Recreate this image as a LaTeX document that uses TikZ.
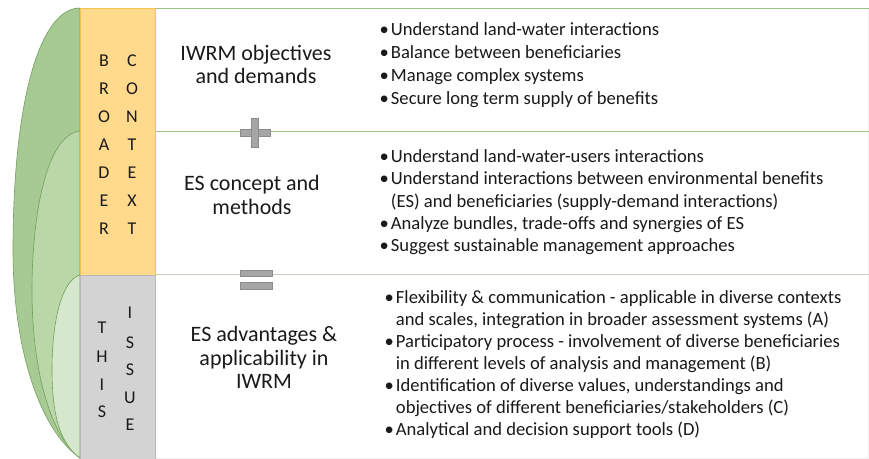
\documentclass[tikz,border=0pt]{standalone}
\usepackage{fontspec}
\setmainfont{Carlito}
\definecolor{gdark}{HTML}{A7C994}
\definecolor{gmid}{HTML}{BAD7A7}
\definecolor{glight}{HTML}{D5E7CC}
\definecolor{gedge}{HTML}{72A05C}
\definecolor{orfill}{HTML}{FFD98C}
\definecolor{ordraw}{HTML}{F2C24E}
\definecolor{gyfill}{HTML}{D3D3D3}
\definecolor{gydraw}{HTML}{B8B8B8}
\definecolor{lineg}{HTML}{9CC27F}
\definecolor{lineg2}{HTML}{C5CFBD}
\definecolor{opgray}{HTML}{A6A6A6}
\definecolor{opdraw}{HTML}{8C8C8C}
\definecolor{txt}{HTML}{1A1A1A}
\begin{document}
\begin{tikzpicture}[x=1pt,y=-1pt,
  arch/.style={draw=gedge,line width=0.6pt},
  letter/.style={inner sep=0pt,font=\fontsize{18}{18}\selectfont,text=txt},
  title/.style={inner sep=0pt,anchor=base,font=\fontsize{22}{23.5}\selectfont,text=txt},
  blist/.style={inner sep=0pt,anchor=base west,text=txt},
  sect/.style={draw=black!6,fill=white,line width=0.6pt},
  op/.style={fill=opgray,draw=opdraw,line width=0.4pt}
]
\useasboundingbox (0,0) rectangle (869,458);
% section boxes
\path[sect] (155,8) rectangle (868,131);
\path[sect] (155,131) rectangle (868,274);
\path[sect] (155,274) rectangle (868,458);
\draw[lineg,line width=1pt] (155,8) -- (869,8);
\draw[lineg,line width=0.8pt] (155,131) -- (869,131);
\draw[lineg2,line width=0.8pt] (155,274) -- (869,274);
% arches
\path[arch,fill=gdark] (80,8) .. controls (40,8) and (13,100) .. (13,250)
  .. controls (13,350) and (40,430) .. (80,458) -- cycle;
\path[arch,fill=gmid] (80,131) .. controls (45,135) and (32,220) .. (32,290)
  .. controls (32,370) and (50,435) .. (80,458) -- cycle;
\path[arch,fill=glight] (80,275) .. controls (62,280) and (52,320) .. (52,370)
  .. controls (52,420) and (62,445) .. (80,458) -- cycle;
% columns
\node[draw=ordraw,fill=orfill,line width=0.8pt,minimum width=75pt,minimum height=267pt,inner sep=0pt,anchor=north west] (broad) at (80,8) {};
\node[draw=gydraw,fill=gyfill,line width=0.8pt,minimum width=75pt,minimum height=184pt,inner sep=0pt,anchor=north west] (issue) at (80,275) {};
% letters
\foreach \l [count=\i from 0] in {B,R,O,A,D,E,R}
  \node[letter] (b\i) at (104,61+28*\i) {\l};
\foreach \l [count=\i from 0] in {C,O,N,T,E,X,T}
  \node[letter] (c\i) at (132,61+28*\i) {\l};
\foreach \l/\y [count=\i] in {T/328,H/357,I/385,S/412}
  \node[letter] (th\i) at (102,\y) {\l};
\foreach \l/\y [count=\i] in {I/313,S/343,S/370,U/398,E/425}
  \node[letter] (is\i) at (130,\y) {\l};
% operators
\node[op,minimum width=30pt,minimum height=7pt,inner sep=0pt] (plush) at (255,132.5) {};
\node[op,minimum width=7pt,minimum height=29pt,inner sep=0pt] (plusv) at (255,132.5) {};
\fill[opgray] (251.9,129.4) rectangle (258.1,135.6);
\node[op,minimum width=32pt,minimum height=6pt,inner sep=0pt] (eq1) at (256,273) {};
\node[op,minimum width=32pt,minimum height=6.5pt,inner sep=0pt] (eq2) at (256,285.5) {};
% titles
\node[title] (t1) at (256,60) {\begin{tabular}[t]{@{}c@{}}IWRM objectives\\and demands\end{tabular}};
\node[title] (t2) at (252,190.5) {\begin{tabular}[t]{@{}c@{}}ES concept and\\methods\end{tabular}};
\node[title] (t3) at (264,341.5) {\begin{tabular}[t]{@{}c@{}}ES advantages \&\\applicability in\\IWRM\end{tabular}};
% bullet lists
\node[blist,font=\fontsize{18.6}{23.3}\selectfont] (l1) at (379.5,35) {\begin{tabular}[t]{@{}l@{\hspace{2pt}}l@{}}
\textbullet & Understand land-water interactions\\
\textbullet & Balance between beneficiaries\\
\textbullet & Manage complex systems\\
\textbullet & Secure long term supply of benefits
\end{tabular}};
\node[blist,font=\fontsize{18.6}{22.4}\selectfont] (l2) at (379.5,162.3) {\begin{tabular}[t]{@{}l@{\hspace{2pt}}l@{}}
\textbullet & Understand land-water-users interactions\\
\textbullet & Understand interactions between environmental benefits\\
 & (ES) and beneficiaries (supply-demand interactions)\\
\textbullet & Analyze bundles, trade-offs and synergies of ES\\
\textbullet & Suggest sustainable management approaches
\end{tabular}};
\node[blist,font=\fontsize{18.6}{22.05}\selectfont] (l3) at (384.5,303.3) {\begin{tabular}[t]{@{}l@{\hspace{2pt}}l@{}}
\textbullet & Flexibility \& communication - applicable in diverse contexts\\
 & and scales, integration in broader assessment systems (A)\\
\textbullet & Participatory process - involvement of diverse beneficiaries\\
 & in different levels of analysis and management (B)\\
\textbullet & Identification of diverse values, understandings and\\
 & objectives of different beneficiaries/stakeholders (C)\\
\textbullet & Analytical and decision support tools (D)
\end{tabular}};
\end{tikzpicture}
\end{document}
